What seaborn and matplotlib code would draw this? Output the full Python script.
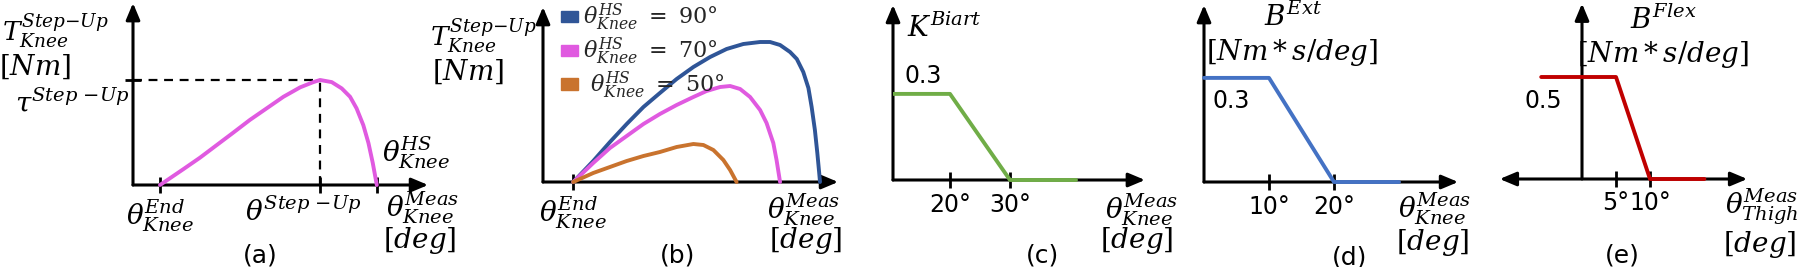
import numpy as np
import pandas as pd
import seaborn as sns
import matplotlib.pyplot as plt
from matplotlib.patches import Patch

sns.set_theme(style="white")
plt.rcParams['font.family'] = ['DejaVu Sans']
plt.rcParams['mathtext.fontset'] = 'dejavuserif'

W, H = 1800, 267
MS = 20   # math text size
NS = 17   # plain number size

# (a) step-up torque vs knee angle (schematic units)
a_theta = [10, 18.6, 24.8, 31.0, 37.2, 43.3, 49.5, 55.7, 61.9, 66.8, 69.3, 73.6, 77.3, 80.4,
           82.8, 85.3, 87.2, 88.8, 90.3]
a_torque = [0, 0.15, 0.26, 0.38, 0.50, 0.62, 0.73, 0.84, 0.93, 0.98, 1.0, 0.98, 0.92, 0.84,
            0.73, 0.57, 0.40, 0.21, 0]

# (b) torque profiles for three heel-strike angles
b_theta_90 = [11.2, 18.6, 24.8, 31.0, 37.2, 43.3, 49.5, 55.7, 61.9, 68.0, 74.2, 80.4, 84.1, 87.8,
              91.5, 94.0, 96.4, 98.3, 99.5, 100.7, 101.6, 102.3, 102.6]
b_torque_90 = [0, 0.21, 0.40, 0.58, 0.75, 0.89, 1.03, 1.15, 1.25, 1.33, 1.38, 1.40, 1.40, 1.37,
               1.30, 1.23, 1.10, 0.94, 0.75, 0.52, 0.29, 0.09, 0]
b_theta_70 = [11.2, 18.6, 24.8, 31.0, 37.2, 43.3, 49.5, 55.7, 60.6, 65.6, 69.3, 73.0, 76.7, 80.4,
              82.8, 85.3, 86.5, 87.8]
b_torque_70 = [0, 0.19, 0.34, 0.46, 0.58, 0.68, 0.77, 0.85, 0.91, 0.95, 0.96, 0.93, 0.85, 0.72,
               0.59, 0.39, 0.22, 0]
b_theta_50 = [11.2, 18.6, 24.8, 31.0, 37.2, 43.3, 49.5, 55.7, 59.4, 63.1, 66.8, 69.3, 71.7]
b_torque_50 = [0, 0.09, 0.15, 0.21, 0.26, 0.30, 0.35, 0.38, 0.37, 0.32, 0.22, 0.12, 0]
b_labels = [r'$\theta^{HS}_{Knee}\ =\ 90°$', r'$\theta^{HS}_{Knee}\ =\ 70°$', r'$\ \theta^{HS}_{Knee}\ =\ 50°$']
b_colors = ['#2F5597', '#E05AE0', '#C9732E']

# (c) biarticular gain
c_deg = [0, 20, 30, 41]
c_gain = [0.3, 0.3, 0, 0]
# (d) extension damping
d_deg = [0, 10, 20, 30]
d_damp = [0.3, 0.3, 0, 0]
# (e) flexion damping
e_deg = [-6, 5, 10, 18]
e_damp = [0.5, 0.5, 0, 0]

fig = plt.figure(figsize=(18, 2.67), dpi=100)


def T(x, y, s, size=MS, **kw):
    kw.setdefault('va', 'center')
    kw.setdefault('ha', 'center')
    fig.text(x / W, 1 - y / H, s, color='black', fontsize=size, **kw)


def panel(L, R, a, b, c, d, yx=0):
    # px = a + b*x ; py = c - d*y
    ax = fig.add_axes([L / W, 0, (R - L) / W, 1])
    ax.set_xlim((L - a) / b, (R - a) / b)
    ax.set_ylim((c - H) / d, c / d)
    ax.patch.set_visible(False)
    for s in ax.spines.values():
        s.set_visible(False)
    ax.spines['bottom'].set_position(('data', 0))
    ax.spines['left'].set_position(('data', yx))
    ax.set_yticks([])
    ax.tick_params(axis='both', which='both', direction='inout', length=12, width=2, color='black',
                   pad=3, labelsize=NS, labelcolor='black', bottom=True, left=True)
    return ax


def finish(ax):
    ax.set_xlabel('')
    ax.set_ylabel('')


def arrows(ax, x0, x1, y1, xleft=None):
    kw = dict(color='black', lw=2.2, shrinkA=0, shrinkB=0, mutation_scale=10)
    st = '-|>,head_length=1.0,head_width=0.42'
    if xleft is not None:
        ax.annotate('', xy=(x1, 0), xytext=(xleft, 0), annotation_clip=False,
                    arrowprops=dict(arrowstyle='<|-|>,head_length=1.0,head_width=0.42', **kw))
    else:
        ax.annotate('', xy=(x1, 0), xytext=(x0, 0), annotation_clip=False,
                    arrowprops=dict(arrowstyle=st, **kw))
    ax.annotate('', xy=(x0, y1), xytext=(x0, 0), annotation_clip=False,
                arrowprops=dict(arrowstyle=st, **kw))


# ---- (a)
ax = panel(0, 460, 133, 2.7, 185, 105)
sns.lineplot(x=a_theta, y=a_torque, ax=ax, color='#E05AE0', lw=2.8, sort=False, estimator=None, zorder=5)
finish(ax)
pk = int(np.argmax(a_torque))
ax.plot([0, a_theta[pk]], [a_torque[pk]] * 2, color='black', lw=1.6, ls=(0, (4, 3)))
ax.plot([a_theta[pk]] * 2, [0, a_torque[pk]], color='black', lw=1.6, ls=(0, (4, 3)))
arrows(ax, 0, 109.3, 1.733)
ax.set_xticks([a_theta[0]], [r'$\theta^{End}_{Knee}$'], fontsize=MS)
ax.set_xticks([a_theta[pk], a_theta[-1]], minor=True)
ax.set_yticks([a_torque[pk]], minor=True)
T(2, 31, r'$T^{Step{-}Up}_{Knee}$', ha='left', size=19)
T(35, 67, r'$[Nm]$')
T(129, 103, r'$\tau^{Step\ {-}Up}$', ha='right')
T(303, 212, r'$\theta^{Step\ {-}Up}$')
T(382, 153, r'$\theta^{HS}_{Knee}$', ha='left')
T(386, 208, r'$\theta^{Meas}_{Knee}$', ha='left')
T(420, 240, r'$[deg]$')
T(260, 256, '(a)', size=18)

# ---- (b)
ax = panel(460, 860, 543, 2.7, 182, 100)
df_b = pd.concat([
    pd.DataFrame({'theta': b_theta_90, 'torque': b_torque_90, 'hs': b_labels[0]}),
    pd.DataFrame({'theta': b_theta_70, 'torque': b_torque_70, 'hs': b_labels[1]}),
    pd.DataFrame({'theta': b_theta_50, 'torque': b_torque_50, 'hs': b_labels[2]}),
])
sns.lineplot(data=df_b, x='theta', y='torque', hue='hs', palette=b_colors, ax=ax, lw=2.8,
             sort=False, estimator=None, legend=False, zorder=5)
finish(ax)
arrows(ax, 0, 109.3, 1.75)
ax.set_xticks([b_theta_90[0]], [r'$\theta^{End}_{Knee}$'], fontsize=MS)
ax.set_yticks([])
handles = [Patch(facecolor=c, edgecolor=c) for c in b_colors]
ax.legend(handles, b_labels, loc='upper left', bbox_to_anchor=(561 / W, 1 - 2 / H),
          bbox_transform=fig.transFigure, frameon=False, fontsize=16, handlelength=0.75,
          handleheight=0.42, handletextpad=0.25, labelspacing=0.12, borderpad=0, borderaxespad=0)
T(483, 36, r'$T^{Step{-}Up}_{Knee}$', size=19)
T(468, 72, r'$[Nm]$')
T(804, 210, r'$\theta^{Meas}_{Knee}$')
T(806, 241, r'$[deg]$')
T(678, 256, '(b)', size=18)

# ---- (c)
ax = panel(893, 1170, 830, 6, 180, 287, yx=10.5)
sns.lineplot(x=c_deg, y=c_gain, ax=ax, color='#70AD47', lw=2.8, sort=False, estimator=None, zorder=5)
finish(ax)
arrows(ax, 10.5, 52.5, 0.61)
ax.set_xticks([20, 30], ['20°', '30°'])
ax.set_yticks([])
T(907, 28, r'$K^{Biart}$', ha='left')
T(904, 76, '0.3', ha='left', size=NS)
T(1105, 210, r'$\theta^{Meas}_{Knee}$', ha='left')
T(1137, 241, r'$[deg]$')
T(1042, 256, '(c)', size=18)

# ---- (d)
ax = panel(1175, 1480, 1204, 6.5, 182, 347)
sns.lineplot(x=d_deg, y=d_damp, ax=ax, color='#4472C4', lw=2.8, sort=False, estimator=None, zorder=5)
finish(ax)
arrows(ax, 0, 39.1, 0.51)
ax.set_xticks([10, 20], ['10°', '20°'])
ax.set_yticks([])
T(1264, 17, r'$B^{Ext}$', ha='left')
T(1292, 53, r'$[Nm*s/deg]$')
T(1212, 101, '0.3', ha='left', size=NS)
T(1398, 209, r'$\theta^{Meas}_{Knee}$', ha='left')
T(1433, 242, r'$[deg]$')
T(1350, 257, '(d)', size=18)

# ---- (e)
ax = panel(1485, 1800, 1582, 6.8, 179, 204)
sns.lineplot(x=e_deg, y=e_damp, ax=ax, color='#C00000', lw=2.8, sort=False, estimator=None, zorder=5)
finish(ax)
arrows(ax, 0, 24.3, 0.86, xleft=-12.1)
ax.set_xticks([5, 10], ['5°', '10°'])
ax.set_yticks([])
T(1630, 20, r'$B^{Flex}$', ha='left')
T(1663, 54, r'$[Nm*s/deg]$')
T(1524, 101, '0.5', ha='left', size=NS)
T(1725, 207, r'$\theta^{Meas}_{Thigh}$', ha='left')
T(1760, 244, r'$[deg]$')
T(1622, 256, '(e)', size=18)

fig.savefig('out.png', dpi=100, facecolor='white')
